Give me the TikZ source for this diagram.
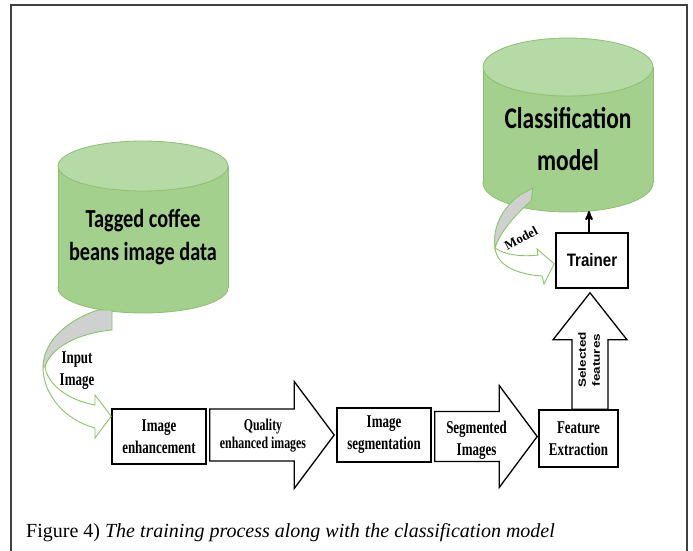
\documentclass[tikz,border=0pt]{standalone}
\usepackage{fontspec}
\usepackage{graphicx}
\setmainfont{Liberation Serif}
\newfontfamily\condserif[FakeStretch=0.72]{Liberation Serif}
\newfontfamily\condcalibri[FakeStretch=0.78]{Carlito}
\newfontfamily\condarial[FakeStretch=0.84]{Liberation Sans}
\newfontfamily\arialfont{Liberation Sans}
\usetikzlibrary{arrows,calc}
\usetikzlibrary{positioning}

\definecolor{drumbody}{RGB}{164,208,142}
\definecolor{drumtop}{RGB}{182,218,165}
\definecolor{drumline}{RGB}{140,190,115}
\definecolor{curveline}{RGB}{135,198,100}
\definecolor{curvegray}{RGB}{208,208,208}

% database drum: center x, top y, bottom y, x radius, y radius
\newcommand{\drum}[5]{%
	\filldraw[fill=drumbody,draw=drumline,line width=0.8pt] (#1,#3) ellipse [x radius=#4, y radius=#5];
	\fill[drumbody] (#1-#4,#2) rectangle (#1+#4,#3);
	\draw[drumline,line width=0.8pt] (#1-#4,#2) -- (#1-#4,#3) (#1+#4,#2) -- (#1+#4,#3);
	\filldraw[fill=drumtop,draw=drumline,line width=0.8pt] (#1,#2) ellipse [x radius=#4, y radius=#5];}

% block arrows: tail, tip, half shaft, half head, head length
\newcommand{\rightblock}[5]{%
	\draw[block arrow] let \p1=(#1), \p2=(#2) in
		(\x1,\y2+#3) -- (\x2-#5,\y2+#3) -- (\x2-#5,\y2+#4) -- (\x2,\y2)
		-- (\x2-#5,\y2-#4) -- (\x2-#5,\y2-#3) -- (\x1,\y2-#3) -- cycle;}
\newcommand{\upblock}[5]{%
	\draw[block arrow] let \p1=(#1), \p2=(#2) in
		(\x2+#3,\y1) -- (\x2+#3,\y2-#5) -- (\x2+#4,\y2-#5) -- (\x2,\y2)
		-- (\x2-#4,\y2-#5) -- (\x2-#3,\y2-#5) -- (\x2-#3,\y1) -- cycle;}

\begin{document}
\begin{tikzpicture}[
		x=1pt,y=-1pt,
		>=stealth',
		proc node/.style={draw=black,line width=1.6pt,fill=white,inner sep=0pt,align=center,
			font=\condserif\bfseries\fontsize{18}{22}\selectfont},
		label text/.style={align=center,inner sep=0pt,font=\condserif\bfseries\fontsize{18}{22}\selectfont},
		db text/.style={align=center,inner sep=0pt,font=\condcalibri\bfseries\fontsize{26}{33}\selectfont},
		block arrow/.style={draw=black,line width=1.3pt,fill=white,line join=miter},
		curve back/.style={fill=curvegray,draw=curveline,line width=0.9pt},
		curve front/.style={fill=white,draw=curveline,line width=0.9pt}]

	\useasboundingbox (0,0) rectangle (693,551);

	% frame
	\draw[black!75,line width=1.3pt] (11,551) -- (11,5) -- (687,5) -- (687,551);

	% databases
	\drum{143}{166}{288}{85}{25}
	\drum{568}{67}{183}{85}{29}
	\node[db text] (tagged) at (143,237) {Tagged coffee\\beans image data};
	\node[db text,font=\condcalibri\bfseries\fontsize{30}{42}\selectfont] (classm) at (568,139) {Classification\\model};
	\coordinate (model base) at (589,211);

	% process boxes
	\node[proc node,minimum width=94pt,minimum height=55pt] (enh) at (159,436.5) {Image\\enhancement};
	\node[proc node,minimum width=94pt,minimum height=54pt] (seg) at (384,435) {Image\\segmentation};
	\node[proc node,minimum width=79pt,minimum height=57pt] (feat) at (578.5,438.5) {Feature\\Extraction};
	\node[proc node,minimum width=72pt,minimum height=55pt,
		font=\condarial\bfseries\fontsize{18}{22}\selectfont] (trainer) at (592,260.5) {Trainer};

	% block arrows between boxes
	\rightblock{$(enh.east)+(3,0)$}{$(seg.west)+(-2,0)$}{26pt}{53.5pt}{40pt}
	\rightblock{$(seg.east)+(3,0)$}{$(feat.west)+(-1,-2)$}{25pt}{51pt}{38pt}
	\upblock{$(feat.north)+(11.5,0)$}{$(trainer.south)+(-2,4)$}{18pt}{37pt}{47pt}

	\node[label text,font=\condserif\bfseries\fontsize{16.5}{18}\selectfont] (qual) at (263,436) {Quality\\enhanced images};
	\node[label text] (segd) at (476.5,440) {Segmented\\Images};
	\node[rotate=90,inner sep=0pt,font=\arialfont\bfseries\fontsize{13.5}{18}\selectfont] (sel) at (590,360)
		{\scalebox{1}[0.78]{\begin{tabular}{@{}c@{}}Selected\\features\end{tabular}}};

	% trainer to model
	\draw[->,line width=2pt] ($(trainer.north)+(-3,0)$) -- (model base);

	% input image curved arrow
	\coordinate (inp tip) at ($(enh.north west)+(0,8)$);
	\filldraw[curve back] (98,310) .. controls (62,322) and (43,345) .. (43,367)
		-- (45,367) .. controls (50,348) and (78,333) .. (112,330) -- (112,310) -- cycle;
	\filldraw[curve front] (43,367) .. controls (43,395) and (65,420) .. (95,428)
		-- (95,438) -- (inp tip) -- (95,395) -- (95,405)
		.. controls (68,400) and (48,385) .. (45,367) -- cycle;
	\node[label text] (inp) at (77,371) {Input\\Image};

	% model curved arrow
	\coordinate (model tip) at ($(trainer.south west)+(-1,-25)$);
	\filldraw[curve back] (520,195) .. controls (502,208) and (492,228) .. (495,248)
		.. controls (500,232) and (515,215) .. (531,201) -- (533,188) -- cycle;
	\filldraw[curve front] (495,248) .. controls (497,265) and (515,274) .. (542,276)
		-- (544,284) -- (model tip) -- (537,249) -- (538,255)
		.. controls (522,257) and (505,255) .. (495,248) -- cycle;
	\node[rotate=28,inner sep=0pt,font=\bfseries\fontsize{13}{15}\selectfont] (modl) at (521,238) {Model};

	% caption
	\node[anchor=base west,inner sep=0pt,font=\fontsize{20}{24}\selectfont] (caption) at (26,537)
		{Figure 4) \textit{The training process along with the classification model}};
\end{tikzpicture}
\end{document}
